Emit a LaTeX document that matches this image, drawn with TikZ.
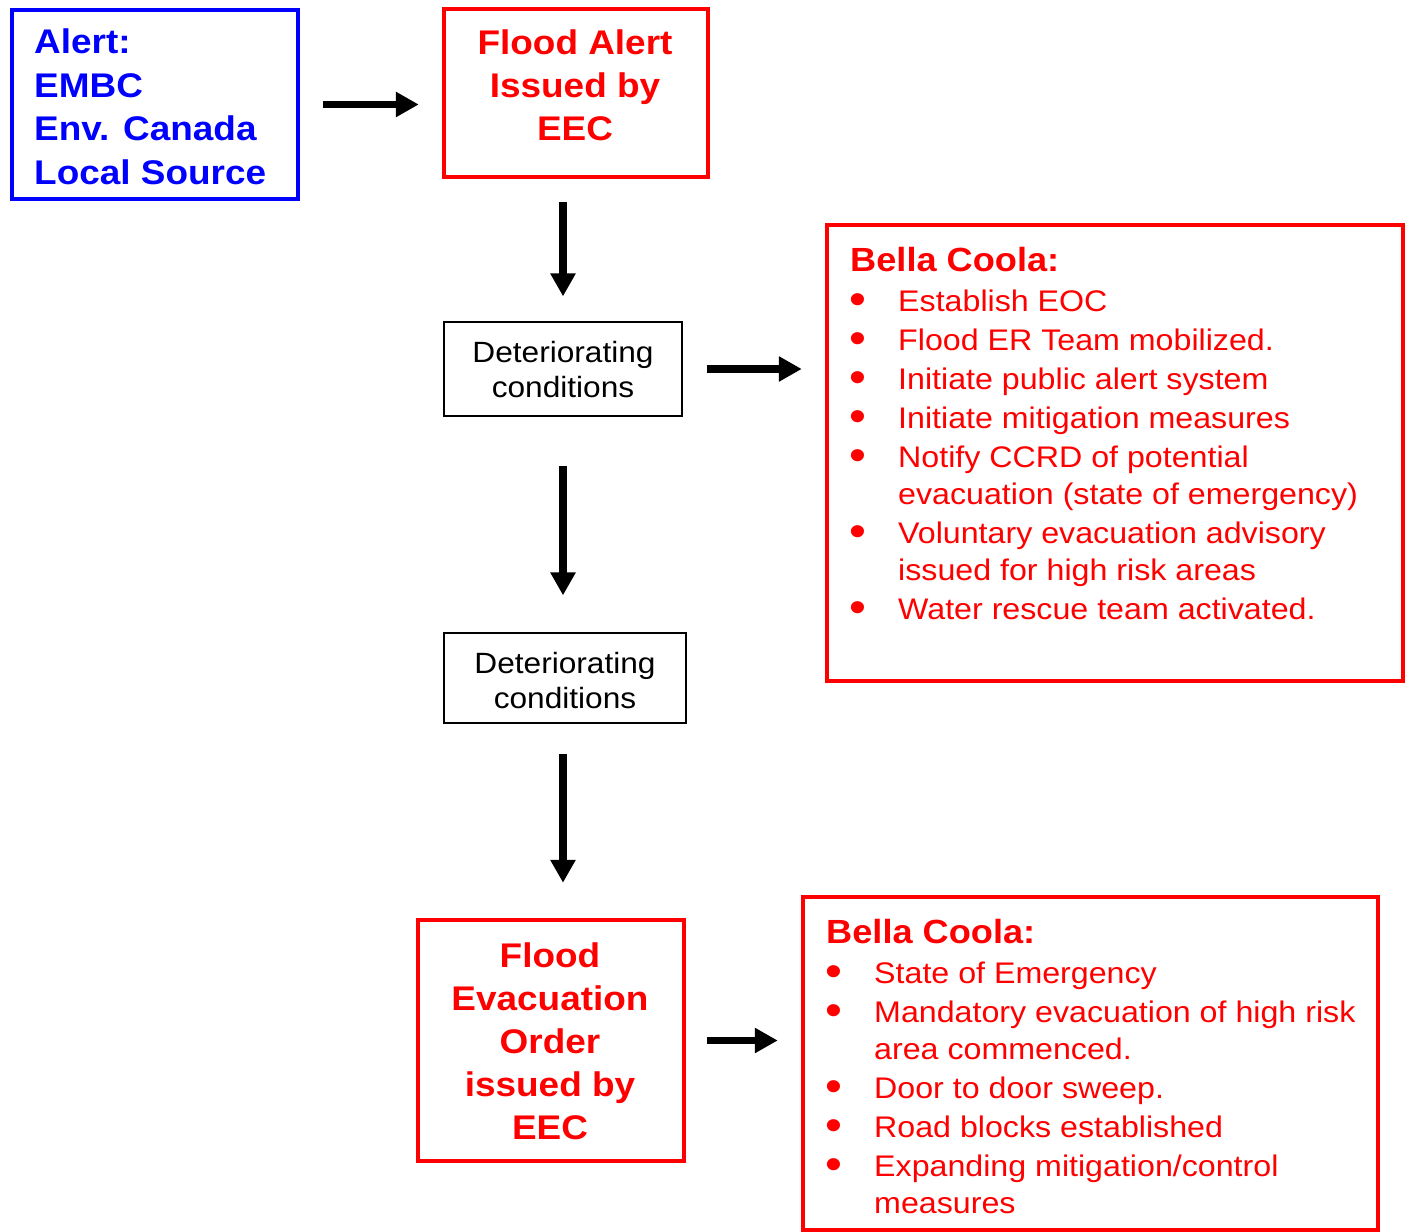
\documentclass[tikz,border=0pt]{standalone}
\usepackage{fontspec}
\usepackage{graphicx}
\setmainfont{Liberation Sans}[FakeStretch=1.08]
\usetikzlibrary{arrows.meta}
\definecolor{fred}{RGB}{255,0,0}
\definecolor{fblue}{RGB}{0,0,255}
\newcommand{\bul}{\makebox[48pt][l]{\hspace{-1pt}\raisebox{-3.5pt}{\scalebox{1.5}{\textbullet}}}}
\newcommand{\bitem}[1]{\par\hangindent=48pt\hangafter=1\noindent\bul#1}
\tikzset{
  redbox/.style={draw=fred, line width=4.5pt, inner sep=0pt},
  bluebox/.style={draw=fblue, line width=4.5pt, inner sep=0pt},
  blackbox/.style={draw=black, line width=1.3pt, inner sep=0pt},
  arr/.style={draw=black, line width=7.5pt, -{Triangle[length=23pt,width=24pt]}},
  boldtxt/.style={inner sep=0pt, font=\fontsize{34.2}{43}\selectfont\bfseries},
  blacktxt/.style={inner sep=0pt, align=center, font=\fontsize{29.3}{35}\selectfont},
  listtxt/.style={inner sep=0pt, text=fred, text width=560pt, align=flush left, anchor=base west}
}
\begin{document}
\begin{tikzpicture}[x=1pt,y=-1pt]
\useasboundingbox (0,0) rectangle (1409,1232);
% boxes
\node[bluebox, minimum width=286pt, minimum height=189pt] (alert) at (155,104.5) {};
\node[redbox, minimum width=264pt, minimum height=168pt] (fa) at (576,93) {};
\node[blackbox, minimum width=238pt, minimum height=94pt] (det1) at (563,369) {};
\node[blackbox, minimum width=242pt, minimum height=90pt] (det2) at (565,678) {};
\node[redbox, minimum width=266pt, minimum height=241pt] (evac) at (551,1040.5) {};
\node[redbox, minimum width=576pt, minimum height=456pt] (b1) at (1115,453) {};
\node[redbox, minimum width=575pt, minimum height=333pt] (b2) at (1090.5,1063.5) {};
% texts
\node[boldtxt, text=fblue, align=left, anchor=base west, font=\fontsize{34.2}{43.5}\selectfont\bfseries] (alerttxt) at (34,184)
  {Alert:\\EMBC\\Env. Canada\\Local Source};
\node[boldtxt, text=fred, align=center, anchor=base] (fatxt) at (575,140)
  {Flood Alert\\Issued by\\EEC};
\node[blacktxt, anchor=base] (det1txt) at (563,397) {Deteriorating\\conditions};
\node[blacktxt, anchor=base] (det2txt) at (565,708) {Deteriorating\\conditions};
\node[boldtxt, text=fred, align=center, anchor=base] (evactxt) at (550,1139)
  {Flood\\Evacuation\\Order\\issued by\\EEC};
\node[listtxt] (b1txt) at (850,271) {%
  {\fontsize{33.5}{40}\selectfont\bfseries Bella Coola:\par}\vspace{1pt}%
  \fontsize{29.8}{37}\selectfont\setlength{\parskip}{2pt}%
  \bitem{Establish EOC}
  \bitem{Flood ER Team mobilized.}
  \bitem{Initiate public alert system}
  \bitem{Initiate mitigation measures}
  \bitem{Notify CCRD of potential\newline evacuation (state of emergency)}
  \bitem{Voluntary evacuation advisory\newline issued for high risk areas}
  \bitem{Water rescue team activated.}\par};
\node[listtxt] (b2txt) at (826,943) {%
  {\fontsize{33.5}{40}\selectfont\bfseries Bella Coola:\par}\vspace{1pt}%
  \fontsize{29.8}{37}\selectfont\setlength{\parskip}{2pt}%
  \bitem{State of Emergency}
  \bitem{Mandatory evacuation of high risk\newline area commenced.}
  \bitem{Door to door sweep.}
  \bitem{Road blocks established}
  \bitem{Expanding mitigation/control\newline measures}\par};
% connectors
\draw[arr, shorten <=23pt, shorten >=23pt] (alert.east) -- (alert.east -| fa.west);
\draw[arr, shorten <=23pt, shorten >=25pt] (det1.north |- fa.south) -- (det1.north);
\draw[arr, shorten <=24pt, shorten >=23pt] (det1.east) -- (det1.east -| b1.west);
\draw[arr, shorten <=49pt, shorten >=37pt] (det1.south) -- (det1.south |- det2.north);
\draw[arr, shorten <=30pt, shorten >=35pt] (det1.south |- det2.south) -- (det1.south |- evac.north);
\draw[arr, shorten <=21pt, shorten >=23pt] (evac.east) -- (evac.east -| b2.west);
\end{tikzpicture}
\end{document}
